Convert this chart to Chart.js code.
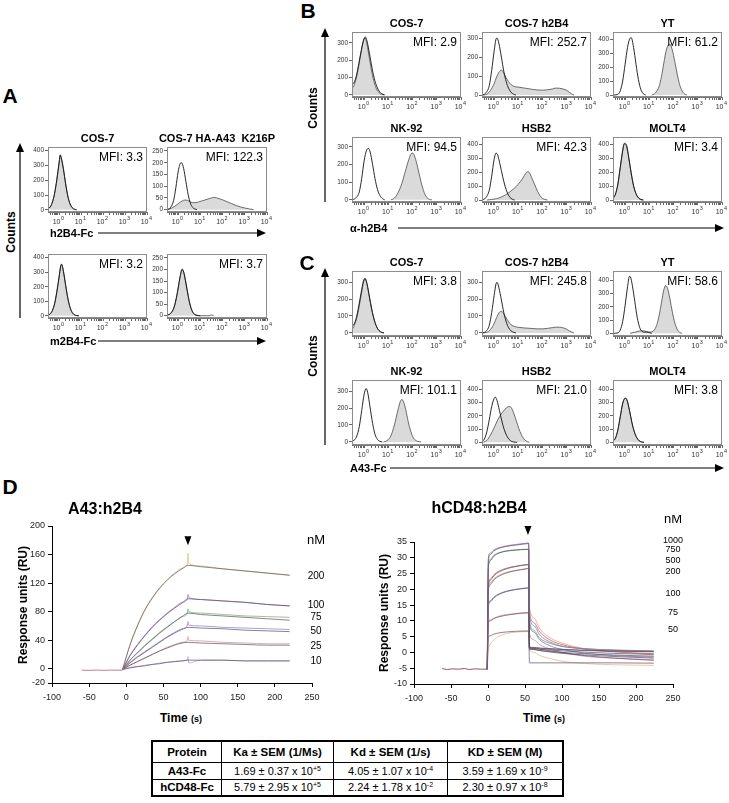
<!DOCTYPE html>
<html>
<head>
<meta charset="utf-8">
<title>2B4 binding</title>
<script src="https://cdn.jsdelivr.net/npm/chart.js@4.4.1/dist/chart.umd.min.js"></script>
<style>
  html, body { margin: 0; padding: 0; background: #fff; }
  body { width: 729px; height: 803px; position: relative; overflow: hidden;
         font-family: "Liberation Sans", Arial, Helvetica, sans-serif; color: #000; }
  canvas, .t, svg, table { position: absolute; }
  .t { line-height: 1; white-space: pre; }
  table { border-collapse: collapse; border: 2px solid #000; }
  td { border: 1.5px solid #000; text-align: center; padding: 0; font-size: 11px; }
  tr.head td { font-weight: bold; font-size: 11.5px; }
  td.prot { font-weight: bold; font-size: 11.5px; }
  sup { font-size: 7px; vertical-align: 4px; line-height: 0; }
</style>
</head>
<body>
<svg id="arrows" width="729" height="803" style="left:0;top:0"></svg>
<script>
"use strict";

/* ══════════════════════════════════════════════════════
   Data — histograms: [log10 fluorescence, counts]
   ══════════════════════════════════════════════════════ */

// ── Panel A ───────────────────────────────────────────────
const titlesA = ["COS-7", "COS-7 HA-A43  K216P"];
const mfiA    = ["3.3", "122.3", "3.2", "3.7"];
const yRangeA = [[-15, 425], [-10, 267], [-15, 425], [-10, 267]];
const yTicksA = [[0, 100, 200, 300, 400], [0, 50, 100, 150, 200, 250],
                 [0, 100, 200, 300, 400], [0, 50, 100, 150, 200, 250]];
const shadedA = [
  [[-0.5,5],[-0.4,18],[-0.3,50],[-0.2,110],[-0.1,200],[0,310],[0.05,368],[0.1,355],[0.2,280],[0.3,180],[0.4,95],[0.5,42],[0.6,15],[0.7,4],[0.8,0]],
  [[-0.5,0],[-0.3,6],[-0.1,18],[0.1,32],[0.25,40],[0.35,41],[0.5,36],[0.65,30],[0.8,30],[0.95,34],[1.1,38],[1.3,44],[1.5,50],[1.65,52],[1.8,48],[2.0,42],[2.2,34],[2.4,26],[2.6,18],[2.8,12],[3.0,7],[3.2,3],[3.4,0]],
  [[-0.5,4],[-0.4,12],[-0.3,35],[-0.2,80],[-0.1,160],[0,260],[0.08,340],[0.12,352],[0.2,310],[0.3,215],[0.4,125],[0.5,60],[0.6,24],[0.7,8],[0.8,2],[0.9,0]],
  [[-0.5,2],[-0.35,8],[-0.2,30],[-0.1,65],[0,115],[0.1,170],[0.18,198],[0.25,190],[0.35,145],[0.45,90],[0.55,45],[0.65,18],[0.75,6],[0.85,2],[1.0,0],[1.4,0],[1.5,3],[1.6,0]]
];
const openA = [
  [[-0.5,6],[-0.4,20],[-0.3,52],[-0.2,112],[-0.1,205],[0,315],[0.06,372],[0.1,352],[0.2,275],[0.3,175],[0.4,92],[0.5,40],[0.6,14],[0.7,4],[0.8,0]],
  [[-0.5,0],[-0.35,8],[-0.2,40],[-0.1,95],[0,160],[0.1,198],[0.15,200],[0.25,175],[0.35,120],[0.45,65],[0.55,28],[0.65,10],[0.75,3],[0.85,0]],
  [[-0.5,5],[-0.4,14],[-0.3,38],[-0.2,85],[-0.1,165],[0,265],[0.08,345],[0.12,355],[0.2,305],[0.3,210],[0.4,120],[0.5,58],[0.6,22],[0.7,7],[0.8,2],[0.9,0]],
  [[-0.5,2],[-0.35,9],[-0.2,32],[-0.1,68],[0,120],[0.1,175],[0.18,202],[0.25,188],[0.35,140],[0.45,86],[0.55,42],[0.65,16],[0.75,5],[0.85,1],[1.0,0]]
];

// ── Panels B and C ────────────────────────────────────────
const titlesBC = ["COS-7", "COS-7 h2B4", "YT", "NK-92", "HSB2", "MOLT4"];

const mfiB    = ["2.9", "252.7", "61.2", "94.5", "42.3", "3.4"];
const yRangeB = [[-12, 363], [-10, 332], [-14, 450], [-12, 355], [-14, 450], [-14, 450]];
const yTicksB = [[0, 100, 200, 300], [0, 100, 200, 300], [0, 100, 200, 300, 400],
                 [0, 100, 200, 300], [0, 100, 200, 300, 400], [0, 100, 200, 300, 400]];
const shadedB = [
  [[-0.5,55],[-0.45,45],[-0.4,62],[-0.3,110],[-0.2,185],[-0.1,265],[-0.02,320],[0.04,328],[0.12,290],[0.22,210],[0.32,130],[0.42,70],[0.52,32],[0.62,12],[0.72,3],[0.82,0]],
  [[-0.5,0],[-0.3,5],[-0.15,25],[0,60],[0.1,95],[0.2,120],[0.3,132],[0.4,115],[0.5,90],[0.6,70],[0.7,55],[0.85,45],[1.0,42],[1.2,38],[1.4,34],[1.6,30],[1.8,27],[2.0,26],[2.2,28],[2.4,32],[2.55,37],[2.7,36],[2.85,32],[3.0,25],[3.1,15],[3.2,6],[3.3,0]],
  [[1.1,0],[1.25,15],[1.4,60],[1.5,130],[1.6,230],[1.7,320],[1.8,360],[1.85,362],[1.95,320],[2.05,240],[2.15,150],[2.25,75],[2.35,30],[2.45,8],[2.55,0]],
  [[1.1,0],[1.25,10],[1.4,40],[1.55,90],[1.7,160],[1.85,230],[1.95,262],[2.0,265],[2.1,240],[2.2,190],[2.3,130],[2.4,75],[2.5,35],[2.6,12],[2.7,3],[2.8,0]],
  [[-0.3,0],[-0.1,4],[0.1,10],[0.3,22],[0.5,40],[0.7,65],[0.9,95],[1.1,135],[1.25,175],[1.35,200],[1.42,202],[1.5,180],[1.6,140],[1.7,100],[1.8,60],[1.9,30],[2.0,12],[2.1,4],[2.2,0]],
  [[-0.5,10],[-0.4,40],[-0.3,110],[-0.2,230],[-0.1,350],[-0.05,395],[0,400],[0.05,385],[0.15,300],[0.25,190],[0.35,100],[0.45,45],[0.55,15],[0.65,4],[0.75,0]]
];
const openB = [
  [[-0.5,60],[-0.42,70],[-0.32,110],[-0.22,180],[-0.12,255],[-0.02,315],[0.05,335],[0.12,310],[0.22,240],[0.32,160],[0.42,95],[0.52,50],[0.62,22],[0.72,8],[0.85,0]],
  [[-0.5,0],[-0.35,10],[-0.2,50],[-0.1,130],[0,230],[0.08,295],[0.12,300],[0.2,270],[0.3,200],[0.4,125],[0.5,70],[0.6,35],[0.7,15],[0.8,5],[0.9,0]],
  [[-0.5,0],[-0.3,5],[-0.2,30],[-0.1,100],[0,220],[0.1,340],[0.2,405],[0.25,410],[0.35,340],[0.45,220],[0.55,110],[0.65,40],[0.75,10],[0.85,0]],
  [[-0.5,0],[-0.35,10],[-0.2,45],[-0.1,120],[0,220],[0.1,280],[0.18,290],[0.25,270],[0.35,200],[0.45,120],[0.55,60],[0.65,25],[0.75,8],[0.85,0]],
  [[-0.5,0],[-0.35,15],[-0.2,70],[-0.1,170],[0,290],[0.08,335],[0.15,320],[0.25,250],[0.35,170],[0.45,100],[0.55,50],[0.65,20],[0.75,6],[0.85,0]],
  [[-0.5,12],[-0.4,42],[-0.3,115],[-0.2,235],[-0.1,355],[-0.03,405],[0.02,402],[0.08,380],[0.15,305],[0.25,195],[0.35,102],[0.45,46],[0.55,16],[0.65,4],[0.75,0]]
];

const mfiC    = ["3.8", "245.8", "58.6", "101.1", "21.0", "3.8"];
const yRangeC = [[-18, 365], [-18, 365], [-20, 470], [-18, 365], [-20, 470], [-20, 470]];
const yTicksC = [[0, 100, 200, 300], [0, 100, 200, 300], [0, 100, 200, 300, 400],
                 [0, 100, 200, 300], [0, 100, 200, 300, 400], [0, 100, 200, 300, 400]];
const shadedC = [
  [[-0.5,35],[-0.45,30],[-0.4,48],[-0.3,90],[-0.2,160],[-0.1,240],[-0.02,300],[0.04,318],[0.12,285],[0.22,210],[0.32,135],[0.42,75],[0.52,35],[0.62,13],[0.72,4],[0.82,0]],
  [[-0.5,0],[-0.3,4],[-0.15,20],[0,55],[0.1,90],[0.2,118],[0.3,128],[0.4,112],[0.5,88],[0.6,65],[0.7,48],[0.85,38],[1.0,33],[1.2,30],[1.4,28],[1.6,26],[1.8,24],[2.0,24],[2.2,27],[2.4,31],[2.55,34],[2.7,34],[2.85,30],[3.0,22],[3.1,12],[3.2,5],[3.3,0]],
  [[0.2,0],[0.4,8],[0.6,18],[0.75,20],[0.9,12],[1.05,10],[1.2,25],[1.3,60],[1.4,130],[1.5,230],[1.6,330],[1.67,360],[1.75,340],[1.85,260],[1.95,160],[2.05,80],[2.15,30],[2.25,8],[2.35,0]],
  [[0.8,0],[0.95,8],[1.1,35],[1.25,100],[1.4,190],[1.5,240],[1.55,250],[1.62,240],[1.72,190],[1.82,120],[1.92,65],[2.02,28],[2.12,10],[2.22,3],[2.35,0]],
  [[-0.45,0],[-0.3,15],[-0.15,55],[0,110],[0.15,170],[0.3,215],[0.45,250],[0.58,268],[0.65,270],[0.72,258],[0.82,215],[0.92,160],[1.02,105],[1.12,60],[1.22,28],[1.32,10],[1.45,0]],
  [[-0.5,8],[-0.4,30],[-0.3,90],[-0.2,190],[-0.1,290],[-0.03,325],[0.02,330],[0.08,315],[0.18,240],[0.28,150],[0.38,80],[0.48,35],[0.58,12],[0.68,3],[0.78,0]]
];
const openC = [
  [[-0.5,40],[-0.42,50],[-0.32,90],[-0.22,160],[-0.12,240],[-0.03,305],[0.04,322],[0.12,290],[0.22,212],[0.32,136],[0.42,76],[0.52,36],[0.62,14],[0.72,4],[0.82,0]],
  [[-0.5,0],[-0.35,8],[-0.2,45],[-0.1,120],[0,220],[0.08,290],[0.12,298],[0.2,265],[0.3,195],[0.4,120],[0.5,65],[0.6,30],[0.7,12],[0.8,4],[0.9,0]],
  [[-0.5,0],[-0.3,4],[-0.2,25],[-0.1,90],[0,210],[0.1,350],[0.18,430],[0.22,425],[0.3,360],[0.4,240],[0.5,120],[0.6,45],[0.7,15],[0.8,8],[0.9,10],[1.0,5],[1.1,0]],
  [[-0.5,5],[-0.4,12],[-0.3,35],[-0.2,90],[-0.1,185],[0,280],[0.08,315],[0.15,290],[0.25,200],[0.35,110],[0.45,45],[0.55,15],[0.65,4],[0.75,0]],
  [[-0.5,5],[-0.4,25],[-0.3,80],[-0.2,170],[-0.1,270],[0,330],[0.05,340],[0.12,315],[0.22,240],[0.32,160],[0.42,95],[0.52,50],[0.62,22],[0.72,8],[0.82,2],[0.95,0]],
  [[-0.5,10],[-0.4,32],[-0.3,95],[-0.2,195],[-0.1,295],[-0.03,330],[0.02,335],[0.08,318],[0.18,242],[0.28,150],[0.38,80],[0.48,35],[0.58,12],[0.68,3],[0.78,0]]
];

// decade tick labels of the log axes
const decades = [0, 1, 2, 3, 4];

/* ── Panel D: sensorgrams (time s, response RU) ───────── */
const a43BaseTime = [-60, -50, -40, -30, -20, -10, -5];
const a43Base     = [-2, -2.3, -1.9, -2.2, -1.9, -2.1, -2];
const a43Time     = [-5, 5, 15, 25, 35, 45, 55, 65, 75, 83, 100, 130, 160, 190, 220];
const a43DataTime = [-5, 5, 15, 25, 35, 45, 55, 65, 75, 82, 83, 84, 100, 130, 160, 190, 220];
const a43Conc     = ["200", "100", "75", "50", "25", "10"];
const a43LabelY   = [130, 89, 72, 53, 32, 11];
const a43Fit = [
  [-1, 33, 60, 82, 99, 113, 124, 133, 140, 145, 143, 140, 137, 134, 131],
  [-1, 18, 33, 46, 58, 68, 77, 85, 92, 98, 97, 95, 93, 90, 88],
  [-1, 12, 22, 32, 41, 50, 58, 66, 73, 78, 76, 74, 72, 70, 68],
  [-1, 8, 16, 23, 30, 37, 44, 50, 55, 58, 57, 56, 54, 53, 52],
  [-1, 5, 10, 15, 20, 25, 29, 33, 36, 37, 36, 35, 34, 33, 33],
  [-1, 1, 3, 4, 6, 7, 9, 10, 11, 12, 12, 12, 11, 11, 11]
];
const a43Data = [
  [-1, 34, 61, 83, 100, 114, 125, 134, 141, 146, 162, 148, 144, 140, 137, 134, 131],
  [-1, 19, 34, 47, 59, 69, 78, 86, 93, 97, 104, 100, 97, 95, 93, 90, 88],
  [-1, 12, 23, 33, 42, 51, 59, 66, 73, 77, 84, 80, 78, 76, 74, 73, 72],
  [-1, 9, 17, 24, 31, 38, 45, 51, 56, 60, 66, 61, 60, 58, 57, 56, 55],
  [-1, 5, 10, 15, 20, 25, 30, 34, 37, 39, 45, 40, 39, 37, 36, 35, 35],
  [-1, 2, 3, 5, 6, 8, 9, 10, 11, 12, 17, 8, 12, 12, 11, 11, 11]
];

const cd48BaseTime = [-62, -55, -48, -40, -32, -25, -18, -10, -1];
const cd48Base     = [-5.1, -5.4, -5.2, -5.3, -5.1, -5.4, -5.2, -5.3, -5.3];
const cd48Time     = [-1, 0.5, 3, 8, 15, 25, 37, 50, 55, 56, 62, 70, 85, 100, 130, 170, 224];
const cd48Conc     = ["1000", "750", "500", "200", "100", "75", "50"];
const cd48LabelY   = [35.6, 32.5, 29, 25.5, 18.8, 12.5, 7.4];
const cd48Fit = [
  [-5.3, 29.2, 31.0, 32.2, 33.0, 33.6, 34.0, 34.4, 34.5, 1.8, 1.6, 1.4, 1.2, 1.0, 0.7, 0.5, 0.3],
  [-5.3, 26.8, 29.0, 30.5, 31.5, 32.1, 32.4, 32.6, 32.6, 1.6, 1.5, 1.3, 1.1, 0.9, 0.6, 0.4, 0.2],
  [-5.3, 21.0, 22.8, 24.3, 25.5, 26.5, 27.2, 27.7, 27.8, 1.4, 1.2, 1.0, 0.8, 0.5, 0.1, -0.3, -0.6],
  [-5.3, 19.8, 21.5, 23.0, 24.2, 25.2, 25.9, 26.4, 26.6, 1.0, 0.9, 0.6, 0.3, 0.0, -0.4, -0.8, -1.2],
  [-5.3, 14.8, 16.0, 17.3, 18.4, 19.3, 19.9, 20.3, 20.4, 1.3, 1.0, 0.6, 0.1, -0.3, -0.8, -1.3, -1.8],
  [-5.3, 9.4, 10.0, 10.7, 11.3, 11.8, 12.2, 12.5, 12.5, 1.5, 1.3, 1.0, 0.5, 0.0, -1.0, -1.8, -2.5],
  [-5.3, 4.8, 5.3, 5.8, 6.2, 6.5, 6.7, 6.8, 6.8, -3.3, -3.3, -3.3, -3.3, -3.3, -3.3, -3.3, -3.4]
];
const cd48Data = [
  [-5.3, 29.8, 31.5, 32.5, 33.2, 33.8, 34.2, 34.6, 34.7, 12.0, 8.5, 5.5, 3.2, 2.0, 1.2, 0.8, 0.5],
  [-5.3, 27.5, 29.5, 30.8, 31.6, 32.2, 32.5, 32.7, 32.7, 10.0, 7.0, 4.5, 2.8, 1.9, 1.2, 0.7, 0.4],
  [-5.3, 21.5, 23.2, 24.6, 25.8, 26.7, 27.3, 27.8, 27.9, 13.0, 9.5, 6.5, 3.8, 2.5, 1.0, 0.2, -0.4],
  [-5.3, 20.5, 22.0, 23.4, 24.5, 25.4, 26.0, 26.5, 26.7, 14.5, 11.0, 7.5, 4.5, 3.0, 1.2, 0.3, -0.8],
  [-5.3, 15.3, 16.4, 17.6, 18.6, 19.4, 20.0, 20.4, 20.5, 9.0, 6.5, 4.0, 2.0, 1.0, -0.2, -1.0, -1.5],
  [-5.3, 9.8, 10.3, 10.9, 11.5, 12.0, 12.3, 12.6, 12.6, 6.0, 4.0, 2.5, 1.0, 0.0, -1.2, -1.8, -2.3],
  [-5.3, 0.5, 2.5, 4.0, 5.2, 6.0, 6.4, 6.6, 6.6, 1.0, 0.0, -1.0, -2.0, -2.8, -3.5, -3.9, -4.1]
];

// ── Kinetics table ────────────────────────────────────────
const kinHeader   = ["Protein", "Ka ± SEM (1/Ms)", "Kd ± SEM (1/s)", "KD ± SEM (M)"];
const kinProteins = ["A43-Fc", "hCD48-Fc"];
const kinKa  = [["1.69 ± 0.37 x 10", "+5"], ["5.79 ± 2.95 x 10", "+5"]];
const kinKd  = [["4.05 ± 1.07 x 10", "-4"], ["2.24 ± 1.78 x 10", "-2"]];
const kinKD  = [["3.59 ± 1.69 x 10", "-9"], ["2.30 ± 0.97 x 10", "-8"]];

/* ══════════════════════════════════════════════════════
   Layout & style
   ══════════════════════════════════════════════════════ */
const boxesA = [[48, 147, 99, 65], [167, 147, 100, 65], [48, 254, 99, 64], [167, 254, 100, 64]];
const colX = [352, 482, 613];
const rowB = [32, 137], rowC = [271, 380];
const BOX_W = 109, BOX_H = 65;

const a43Colors  = ["#e2c27f", "#a67cc6", "#7fb57f", "#9786d6", "#d9949f", "#c49fd8"];
const cd48Colors = ["#a06fb8", "#5e9e5e", "#b8676a", "#e0a27a", "#7a78c8", "#e08aa6", "#e8b88a"];
const FIT_COLOR  = "#5a4d62";
const FONT = '"Liberation Sans", Arial, sans-serif';

Chart.defaults.font.family = FONT;
Chart.defaults.color = "#222";

// ── Helpers ───────────────────────────────────────────────
function addCanvas(left, top, w, h) {
  const c = document.createElement("canvas");
  c.width = w; c.height = h;
  c.style.left = left + "px"; c.style.top = top + "px";
  c.style.width = w + "px"; c.style.height = h + "px";
  document.body.appendChild(c);
  return c;
}

// text centred vertically on cy; align l / c / r; rot = rotate -90
function addText(html, x, cy, size, opt = {}) {
  const d = document.createElement("div");
  d.className = "t";
  d.innerHTML = html;
  d.style.fontSize = size + "px";
  if (opt.bold) d.style.fontWeight = "bold";
  d.style.left = x + "px";
  if (opt.rot) {
    d.style.top = cy + "px";
    d.style.transform = "translate(-50%,-50%) rotate(-90deg)";
  } else {
    d.style.top = (cy - size / 2) + "px";
    if (opt.align === "c") d.style.transform = "translateX(-50%)";
    if (opt.align === "r") d.style.transform = "translateX(-100%)";
  }
  document.body.appendChild(d);
}

const pts = (arr) => arr.map((p) => ({ x: p[0], y: p[1] }));
const pairs = (xs, ys) => xs.map((x, i) => ({ x, y: ys[i] }));

// log decade tick positions (majors + minors), in log10 units
const decadeTicks = [];
for (let n = -1; n <= 3; n++) {
  for (let k = 1; k <= 9; k++) {
    const v = n + Math.log10(k);
    if (v >= -0.5) decadeTicks.push(v);
  }
}
decadeTicks.push(4);

// grey box round the plot area
const frame = {
  id: "frame",
  afterDraw(ch) {
    const a = ch.chartArea, c = ch.ctx;
    c.save();
    c.strokeStyle = "#8c8c8c";
    c.lineWidth = 1;
    c.strokeRect(a.left + 0.5, a.top + 0.5, a.right - a.left - 1, a.bottom - a.top - 1);
    c.restore();
  },
};

// "10" with a raised exponent under each decade of the x scale
const decadeLabels = {
  id: "decadeLabels",
  afterDraw(ch) {
    const xs = ch.scales.x, c = ch.ctx, y0 = ch.chartArea.bottom + 5;
    c.save();
    c.fillStyle = "#333";
    c.textBaseline = "top";
    decades.forEach((n) => {
      const x = xs.getPixelForValue(n);
      c.font = "7px " + FONT;
      c.textAlign = "right";
      c.fillText("10", x + 1.5, y0 + 2);
      c.font = "5.5px " + FONT;
      c.textAlign = "left";
      c.fillText(String(n), x + 2, y0 - 1);
    });
    c.restore();
  },
};

// ── Flow histogram ────────────────────────────────────────
const H_YW = 22, H_PT = 5, H_PR = 9, H_XH = 14;

function histogram(box, range, yTicks, shaded, open, mfi, title) {
  const [bx, by, bw, bh] = box;
  const cv = addCanvas(bx - H_YW, by - H_PT, bw + H_YW + H_PR, bh + H_PT + H_XH);
  new Chart(cv, {
    type: "line",
    data: {
      datasets: [
        { data: pts(open), fill: false, borderColor: "#111", borderWidth: 0.9,
          pointRadius: 0, cubicInterpolationMode: "monotone" },
        { data: pts(shaded), fill: "origin", backgroundColor: "#dadada",
          borderColor: "#4a4a4a", borderWidth: 0.8, pointRadius: 0,
          cubicInterpolationMode: "monotone" },
      ],
    },
    options: {
      responsive: false, animation: false, devicePixelRatio: 1,
      layout: { padding: { top: H_PT, right: H_PR, left: 0, bottom: 0 } },
      plugins: { legend: { display: false }, tooltip: { enabled: false } },
      scales: {
        x: {
          type: "linear", min: -0.5, max: 4,
          afterBuildTicks: (s) => { s.ticks = decadeTicks.map((v) => ({ value: v })); },
          afterFit: (s) => { s.height = H_XH; },
          ticks: { autoSkip: false, maxRotation: 0, minRotation: 0, callback: () => "" },
          grid: { drawOnChartArea: false, tickLength: 3, tickColor: "#666" },
          border: { color: "#777" },
        },
        y: {
          min: range[0], max: range[1],
          afterBuildTicks: (s) => { s.ticks = yTicks.map((v) => ({ value: v })); },
          afterFit: (s) => { s.width = H_YW; },
          ticks: { padding: 1, font: { size: 6.5 }, color: "#333" },
          grid: { drawOnChartArea: false, tickLength: 3, tickColor: "#666" },
          border: { color: "#777" },
        },
      },
    },
    plugins: [frame, decadeLabels],
  });
  addText("MFI: " + mfi, bx + bw - 4, by + 10, 12, { align: "r" });
  if (title) addText(title, bx + bw / 2, by - 9, 11, { bold: true, align: "c" });
}

// ── Panel A ───────────────────────────────────────────────
boxesA.forEach((b, i) =>
  histogram(b, yRangeA[i], yTicksA[i], shadedA[i], openA[i], mfiA[i], i < 2 ? titlesA[i] : null));

// ── Panels B, C ───────────────────────────────────────────
for (let i = 0; i < 6; i++) {
  const col = colX[i % 3];
  const r = Math.floor(i / 3);
  histogram([col, rowB[r], BOX_W, BOX_H], yRangeB[i], yTicksB[i], shadedB[i], openB[i], mfiB[i], titlesBC[i]);
  histogram([col, rowC[r], BOX_W, BOX_H], yRangeC[i], yTicksC[i], shadedC[i], openC[i], mfiC[i], titlesBC[i]);
}

// ── Sensorgram marks: injection-stop arrowhead + concentration labels ──
const sprMarks = {
  id: "sprMarks",
  afterDraw(ch, args, o) {
    const c = ch.ctx, xs = ch.scales.x, ys = ch.scales.y, a = ch.chartArea;
    c.save();
    const ax = xs.getPixelForValue(o.stopX), ay = ys.getPixelForValue(o.tipY);
    c.fillStyle = "#000";
    c.beginPath();
    c.moveTo(ax - 3.5, ay - 9); c.lineTo(ax + 3.5, ay - 9); c.lineTo(ax, ay);
    c.closePath(); c.fill();
    c.textAlign = "center"; c.textBaseline = "middle";
    const lx = a.right + o.dx;
    c.font = "13px " + FONT;
    c.fillText("nM", lx, ys.getPixelForValue(o.unitY));
    c.font = o.labelSize + "px " + FONT;
    o.labels.forEach((t, i) => c.fillText(t, lx, ys.getPixelForValue(o.labelY[i])));
    c.restore();
  },
};

function sprChart(pos, yAxisW, pad, xH, datasets, yOpts, marks) {
  const cv = addCanvas(pos[0], pos[1], pos[2], pos[3]);
  new Chart(cv, {
    type: "line",
    data: { datasets },
    options: {
      responsive: false, animation: false, devicePixelRatio: 1,
      layout: { padding: pad },
      plugins: { legend: { display: false }, tooltip: { enabled: false }, sprMarks: marks },
      elements: { point: { radius: 0 }, line: { cubicInterpolationMode: "monotone" } },
      scales: {
        x: {
          type: "linear", min: -100, max: 250,
          ticks: { stepSize: 50, font: { size: 9 }, color: "#222", padding: 5, maxRotation: 0 },
          afterFit: (s) => { s.height = xH; },
          grid: { drawOnChartArea: false, tickLength: 4, tickColor: "#000" },
          border: { color: "#000", width: 1 },
        },
        y: Object.assign({
          ticks: { font: { size: 9 }, color: "#222", padding: 3 },
          afterFit: (s) => { s.width = yAxisW; },
          grid: { drawOnChartArea: false, tickLength: 4, tickColor: "#000" },
          border: { color: "#000", width: 1 },
        }, yOpts),
      },
    },
    plugins: [sprMarks],
  });
}

// A43:h2B4
const a43Sets = [{ data: pairs(a43BaseTime, a43Base), borderColor: "#b0607c", borderWidth: 0.8, fill: false }];
a43Conc.forEach((c, i) => {
  a43Sets.push({ data: pairs(a43Time, a43Fit[i]), borderColor: FIT_COLOR, borderWidth: 0.7, fill: false });
  a43Sets.push({ data: pairs(a43DataTime, a43Data[i]), borderColor: a43Colors[i], borderWidth: 0.8, fill: false });
});
sprChart([0, 515, 340, 188], 52, { top: 11, right: 28, left: 0, bottom: 0 }, 20, a43Sets,
  { min: -20, max: 200,
    afterBuildTicks: (s) => { s.ticks = [-20, 0, 40, 80, 120, 160, 200].map((v) => ({ value: v })); } },
  { stopX: 83, tipY: 173, dx: 4, unitY: 180, labels: a43Conc, labelY: a43LabelY, labelSize: 10 });

// hCD48:h2B4
const cd48Sets = [{ data: pairs(cd48BaseTime, cd48Base), borderColor: "#8e3a58", borderWidth: 0.9, fill: false }];
cd48Conc.forEach((c, i) => {
  cd48Sets.push({ data: pairs(cd48Time, cd48Fit[i]), borderColor: FIT_COLOR, borderWidth: 0.7, fill: false });
  cd48Sets.push({ data: pairs(cd48Time, cd48Data[i]), borderColor: cd48Colors[i], borderWidth: 0.8, fill: false });
});
sprChart([360, 515, 345, 190], 54, { top: 27, right: 32, left: 0, bottom: 0 }, 21, cd48Sets,
  { min: -10, max: 35, ticks: { stepSize: 5, font: { size: 9 }, color: "#222", padding: 3 } },
  { stopX: 54, tipY: 37.2, dx: 0, unitY: 42, labels: cd48Conc, labelY: cd48LabelY, labelSize: 9 });

/* ── Text: panel letters, axis titles ─────────────────── */
addText("A", 10, 95, 21, { bold: true, align: "c" });
addText("B", 308, 10, 21, { bold: true, align: "c" });
addText("C", 307, 262, 21, { bold: true, align: "c" });
addText("D", 10, 486, 21, { bold: true, align: "c" });

addText("Counts", 11, 232, 12, { bold: true, rot: true });
addText("Counts", 313, 108, 12, { bold: true, rot: true });
addText("Counts", 313, 356, 12, { bold: true, rot: true });

addText("h2B4-Fc", 50, 233, 11, { bold: true });
addText("m2B4-Fc", 50, 341, 11, { bold: true });
addText("\u03b1-h2B4", 350, 228, 11, { bold: true });
addText("A43-Fc", 350, 468, 11, { bold: true });

addText("A43:h2B4", 105, 509, 16, { bold: true, align: "c" });
addText("hCD48:h2B4", 479, 508, 16, { bold: true, align: "c" });
addText("Response units (RU)", 23, 605, 12, { bold: true, rot: true });
addText("Response units (RU)", 384, 613, 12, { bold: true, rot: true });
addText('Time <span style="font-size:9px">(s)</span>', 181, 718, 12, { bold: true, align: "c" });
addText('Time <span style="font-size:9px">(s)</span>', 544, 718, 12, { bold: true, align: "c" });

/* ── Arrows (SVG) ─────────────────────────────────────── */
const svg = document.getElementById("arrows");
function arrow(x1, y1, x2, y2) {
  // line from (x1,y1) to tip (x2,y2) with filled head
  const ang = Math.atan2(y2 - y1, x2 - x1), L = 9, W = 4;
  const bx = x2 - L * Math.cos(ang), by = y2 - L * Math.sin(ang);
  const nx = -Math.sin(ang) * W, ny = Math.cos(ang) * W;
  svg.insertAdjacentHTML("beforeend",
    `<line x1="${x1}" y1="${y1}" x2="${bx}" y2="${by}" stroke="#000" stroke-width="1.2"/>` +
    `<polygon points="${x2},${y2} ${bx + nx},${by + ny} ${bx - nx},${by - ny}" fill="#000"/>`);
}
arrow(20, 318, 20, 143);
arrow(98, 233, 266, 233);
arrow(98, 341, 266, 341);
arrow(325, 202, 325, 28);
arrow(398, 228, 724, 228);
arrow(325, 445, 325, 268);
arrow(390, 468, 724, 468);

/* ── Kinetics table ───────────────────────────────────── */
const tbl = document.createElement("table");
tbl.style.left = "151px"; tbl.style.top = "740px";
const colW = [68, 111, 113, 114];
let html = '<tr class="head" style="height:21px">' +
  kinHeader.map((h, i) => `<td style="width:${colW[i]}px">${h}</td>`).join("") + "</tr>";
kinProteins.forEach((p, i) => {
  const cell = (v) => `<td>${v[0]}<sup>${v[1]}</sup></td>`;
  html += `<tr style="height:17px"><td class="prot">${p}</td>${cell(kinKa[i])}${cell(kinKd[i])}${cell(kinKD[i])}</tr>`;
});
tbl.innerHTML = html;
document.body.appendChild(tbl);
</script>
</body>
</html>
